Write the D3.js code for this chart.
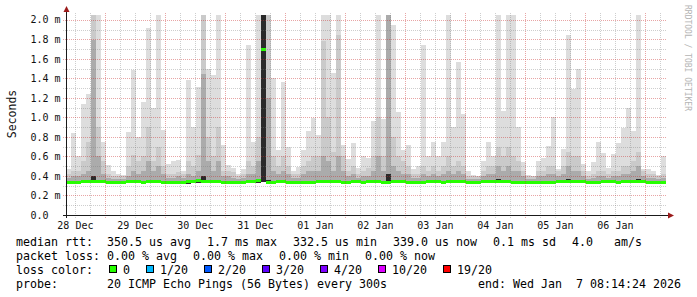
<!DOCTYPE html>
<html>
<head>
<meta charset="utf-8">
<script src="https://cdn.jsdelivr.net/npm/d3@7"></script>
<style>
  html, body { margin: 0; padding: 0; background: #fff; }
  svg { display: block; }
  text { font-family: "DejaVu Sans Mono", monospace; white-space: pre; }
</style>
</head>
<body>
<script>
// smokeping style latency graph, 10 days, one column = 2 hours (values in ms)
const maxMs = [
  .47, .84, .60, 1.14, 1.24, 2.05, 2.05, .75, .51, .45,
  .42, .41, .85, 1.49, .80, 1.16, 1.92, 1.10, 2.05, .87,
  .52, .55, .56, .45, 1.38, .90, 1.31, 2.05, 1.50, 1.43,
  2.05, .72, .51, .48, .42, .47, 1.74, .75, 2.05, 2.05,
  2.05, 1.40, .67, 1.36, .70, .45, .49, .67, .86, .99,
  .82, 2.05, 2.05, 1.46, 2.05, .72, .57, .74, .48, .60,
  .58, .96, 2.05, .98, 2.05, 1.95, 1.06, .67, .72, .47,
  .50, 1.74, .60, .75, .60, .75, 2.05, .90, 1.57, 1.04,
  .45, .41, .40, .55, .75, .60, 2.05, 1.07, 2.05, 2.05,
  .90, .54, .41, .40, .55, .58, .71, 1.00, .47, .68,
  1.85, 1.29, 1.50, .52, .45, .54, .75, .64, .48, .63,
  .74, .89, 1.10, .86, 2.05, .47, .47, .45, .41, .60
];
const upperMs = [
  .42, .45, .45, .55, .75, 2.05, .90, .55, .42, .40,
  .40, .40, .50, .62, .55, .60, .90, .55, .70, .50,
  .42, .42, .44, .42, .55, .50, .62, 2.05, .80, .60,
  .90, .45, .45, .44, .40, .42, .55, .50, .80, 2.05,
  2.05, .60, .50, .60, .50, .42, .42, .50, .55, .60,
  .60, 1.78, 1.00, .65, 1.84, .60, .45, .50, .42, .45,
  .48, .60, 1.00, .60, 2.05, .80, .60, .55, .50, .42,
  .42, .50, .45, .50, .45, .50, .60, .50, .55, .50,
  .40, .40, .40, .45, .50, .50, .70, .60, .70, .60,
  .55, .45, .40, .40, .45, .45, .50, .50, .45, .50,
  .65, .60, .60, .45, .40, .42, .45, .45, .42, .45,
  .45, .50, .50, .55, .65, .45, .42, .42, .40, .42
];
const midMs = [
  .38, .40, .40, .42, .45, 1.79, .60, .42, .38, .37,
  .37, .37, .40, .45, .42, .45, .55, .45, .50, .42,
  .38, .38, .40, .38, .42, .40, .45, 1.45, .55, .45,
  .55, .40, .40, .38, .37, .38, .42, .42, .55, 2.05,
  1.20, .45, .42, .45, .42, .38, .38, .42, .45, .45,
  .45, .60, .55, .45, .60, .45, .40, .42, .38, .40,
  .40, .45, .60, .45, 2.05, .50, .45, .42, .42, .38,
  .38, .42, .40, .42, .40, .42, .45, .42, .45, .42,
  .37, .37, .37, .40, .42, .42, .50, .45, .50, .45,
  .45, .40, .37, .37, .40, .40, .42, .42, .40, .42,
  .50, .45, .45, .40, .37, .38, .40, .40, .38, .40,
  .40, .42, .42, .45, .50, .40, .38, .38, .37, .38
];
const coreMs = [
  .345, .345, .345, .345, .345, .40, .345, .345, .345, .345,
  .345, .345, .345, .345, .345, .345, .36, .345, .345, .345,
  .345, .345, .345, .345, .345, .345, .36, .40, .345, .345,
  .345, .345, .345, .345, .345, .345, .345, .345, .37, 2.05,
  .36, .345, .345, .345, .345, .345, .345, .345, .345, .345,
  .345, .36, .345, .345, .36, .345, .345, .345, .345, .345,
  .345, .345, .36, .345, .42, .36, .345, .345, .345, .345,
  .345, .345, .345, .345, .345, .345, .345, .345, .345, .345,
  .345, .345, .345, .345, .345, .345, .37, .345, .36, .345,
  .345, .345, .345, .345, .345, .345, .345, .345, .345, .345,
  .37, .345, .36, .345, .345, .345, .345, .345, .345, .345,
  .345, .345, .345, .345, .37, .345, .345, .345, .345, .345
];
const lowMs = [
  .33, .33, .33, .33, .325, .33, .33, .33, .33, .33,
  .33, .33, .325, .33, .33, .33, .33, .33, .325, .33,
  .33, .33, .33, .32, .32, .33, .33, .33, .33, .33,
  .33, .33, .33, .33, .33, .33, .33, .33, .33, .34,
  .33, .33, .33, .33, .33, .33, .325, .325, .325, .33,
  .33, .33, .33, .33, .33, .33, .33, .33, .33, .33,
  .33, .33, .33, .33, .33, .33, .33, .33, .33, .33,
  .33, .33, .33, .33, .33, .33, .33, .33, .33, .33,
  .33, .33, .33, .33, .33, .33, .33, .33, .33, .33,
  .325, .325, .325, .33, .33, .33, .33, .33, .33, .33,
  .33, .33, .33, .33, .33, .33, .33, .33, .33, .33,
  .33, .33, .33, .33, .33, .33, .33, .33, .33, .33
];
const medianMs = [
  .342, .342, .342, .345, .345, .35, .35, .345, .342, .342,
  .342, .342, .345, .345, .345, .342, .345, .345, .345, .342,
  .342, .342, .342, .34, .345, .35, .355, .35, .35, .345,
  .345, .342, .342, .342, .342, .342, .345, .345, .355, 1.70,
  .34, .34, .345, .345, .342, .342, .338, .338, .342, .342,
  .345, .345, .345, .345, .345, .342, .342, .345, .345, .342,
  .345, .345, .345, .342, .342, .345, .345, .345, .342, .342,
  .342, .342, .345, .345, .345, .342, .345, .35, .345, .345,
  .342, .342, .342, .345, .345, .345, .345, .345, .345, .342,
  .342, .342, .338, .338, .342, .342, .342, .342, .345, .345,
  .345, .35, .35, .345, .342, .342, .342, .345, .345, .345,
  .342, .345, .345, .345, .345, .345, .342, .342, .342, .342
];
const lossLabels = ["0", "1/20", "2/20", "3/20", "4/20", "10/20", "19/20"];
const lossColors = ["#26ff00", "#00b8ff", "#0059ff", "#5e00ff", "#7e00ff", "#dd00ff", "#ff0000"];
const yTicks = [0, .2, .4, .6, .8, 1.0, 1.2, 1.4, 1.6, 1.8, 2.0];
const legendRtt = ["median rtt:  350.5 us avg", "1.7 ms max", "332.5 us min", "339.0 us now", "0.1 ms sd", "4.0   am/s"];
const legendLoss = ["packet loss: 0.00 % avg", "0.00 % max", "0.00 % min", "0.00 % now"];
const probeText = "probe:       20 ICMP Echo Pings (56 Bytes) every 300s";
const endText = "end: Wed Jan  7 08:14:24 2026";

const W = 697, H = 297;
const start = new Date(2025, 11, 28, 8, 14, 24);
const end = new Date(2026, 0, 7, 8, 14, 24);
const slotHours = 2;
const slots = maxMs.map((d, i) => d3.timeHour.offset(start, i * slotHours));

const svg = d3.select("body").append("svg")
    .attr("width", W)
    .attr("height", H);
svg.append("rect").attr("width", W).attr("height", H).attr("fill", "#fff");

const x = d3.scaleTime().domain([start, end]).range([66, 666]);
const y = d3.scaleLinear().domain([0, 2.05]).range([215, 15]);
const colW = x(slots[1]) - x(slots[0]);

// smoke layers, outer (light) to inner (dark)
const layers = [
    {top: maxMs, color: "#dddddd"},
    {top: upperMs, color: "#cacaca"},
    {top: midMs, color: "#ababab"},
    {top: coreMs, color: "#2a2a2a"}
];
const plot = svg.append("g").attr("shape-rendering", "crispEdges");
layers.forEach(layer => {
    plot.append("g").selectAll("rect")
        .data(slots)
        .enter()
        .append("rect")
        .attr("x", d => x(d))
        .attr("width", colW)
        .attr("y", (d, i) => Math.round(y(layer.top[i])))
        .attr("height", (d, i) => Math.max(0, Math.round(y(lowMs[i])) - Math.round(y(layer.top[i]))))
        .attr("fill", layer.color);
});

// median line (loss 0 -> green)
plot.append("g").selectAll("rect")
    .data(slots)
    .enter()
    .append("rect")
    .attr("x", d => x(d))
    .attr("width", colW)
    .attr("y", (d, i) => Math.round(y(medianMs[i])) - 1)
    .attr("height", 3)
    .attr("fill", lossColors[0]);

// grid, semi transparent like rrdtool
const grid = svg.append("g").attr("shape-rendering", "crispEdges");
const sixHours = d3.timeHour.every(6).range(start, end);
grid.selectAll(".vgrid")
    .data(sixHours)
    .enter()
    .append("line")
    .attr("x1", d => Math.floor(x(d)) + 0.5)
    .attr("x2", d => Math.floor(x(d)) + 0.5)
    .attr("y1", 13)
    .attr("y2", 218)
    .attr("stroke", d => d.getHours() === 0 ? "rgba(200,40,40,0.42)" : "rgba(120,120,120,0.36)")
    .attr("stroke-dasharray", "1,1");

const minorY = d3.range(1, 21).map(i => i / 10);
grid.selectAll(".hgrid")
    .data(minorY)
    .enter()
    .append("line")
    .attr("x1", 63)
    .attr("x2", 667)
    .attr("y1", d => Math.round(y(d)) + 0.5)
    .attr("y2", d => Math.round(y(d)) + 0.5)
    .attr("stroke", (d, i) => (i % 2 === 1) ? "rgba(200,40,40,0.42)" : "rgba(120,120,120,0.36)")
    .attr("stroke-dasharray", "1,1");

// axes
const axes = svg.append("g").attr("shape-rendering", "crispEdges");
axes.append("line")
    .attr("x1", 63).attr("x2", 669)
    .attr("y1", 215.5).attr("y2", 215.5)
    .attr("stroke", "#1a1a1a");
axes.append("line")
    .attr("x1", 66.5).attr("x2", 66.5)
    .attr("y1", 218).attr("y2", 11)
    .attr("stroke", "#1a1a1a");
svg.append("path")
    .attr("d", "M668,212.5 L674,215.5 L668,218.5 Z")
    .attr("fill", "#9b1b1b");
svg.append("path")
    .attr("d", "M63.5,12 L66.5,6 L69.5,12 Z")
    .attr("fill", "#9b1b1b");

// tick labels
svg.append("g").selectAll("text")
    .data(yTicks)
    .enter()
    .append("text")
    .attr("x", 30.5)
    .attr("y", d => y(d) + 3.6)
    .attr("font-size", "10px")
    .attr("fill", "#111")
    .text(d => d === 0 ? "0.0" : d.toFixed(1) + " m");

const noons = d3.timeDay.range(d3.timeDay.floor(start), end)
    .map(d => d3.timeHour.offset(d, 12))
    .filter(d => d >= start && d < end);
svg.append("g").selectAll("text")
    .data(noons)
    .enter()
    .append("text")
    .attr("x", d => x(d))
    .attr("y", 228.5)
    .attr("text-anchor", "middle")
    .attr("font-size", "10px")
    .attr("fill", "#111")
    .text(d => d3.timeFormat("%d %b")(d));

svg.append("text")
    .attr("transform", "translate(15.5,114) rotate(-90)")
    .attr("text-anchor", "middle")
    .attr("font-size", "11.5px")
    .attr("fill", "#111")
    .text("Seconds");

svg.append("text")
    .attr("transform", "translate(685,5) rotate(90)")
    .attr("font-size", "8px")
    .attr("fill", "#b4b4b4")
    .text("RRDTOOL / TOBI OETIKER");

// legend
const charW = 7, gap = 16;
const legend = svg.append("g").attr("font-size", "11.63px").attr("fill", "#000");
function legendLine(items, baseline) {
    let cx = 16;
    items.forEach(s => {
        legend.append("text").attr("x", cx).attr("y", baseline).text(s);
        cx += s.length * charW + gap;
    });
}
legendLine(legendRtt, 245.5);
legendLine(legendLoss, 259.5);

legend.append("text").attr("x", 16).attr("y", 273.5).text("loss color:");
let lx = 108.5;
lossLabels.forEach((lab, i) => {
    legend.append("rect")
        .attr("x", lx + 0.5).attr("y", 265.5)
        .attr("width", 7).attr("height", 7)
        .attr("fill", lossColors[i])
        .attr("stroke", "#000")
        .attr("shape-rendering", "crispEdges");
    legend.append("text").attr("x", lx + 14.5).attr("y", 273.5).text(lab);
    lx += 14.5 + lab.length * charW + 15.5;
});

legend.append("text").attr("x", 16).attr("y", 287.5).text(probeText);
legend.append("text").attr("x", 681).attr("y", 287.5).attr("text-anchor", "end").text(endText);
</script>
</body>
</html>
